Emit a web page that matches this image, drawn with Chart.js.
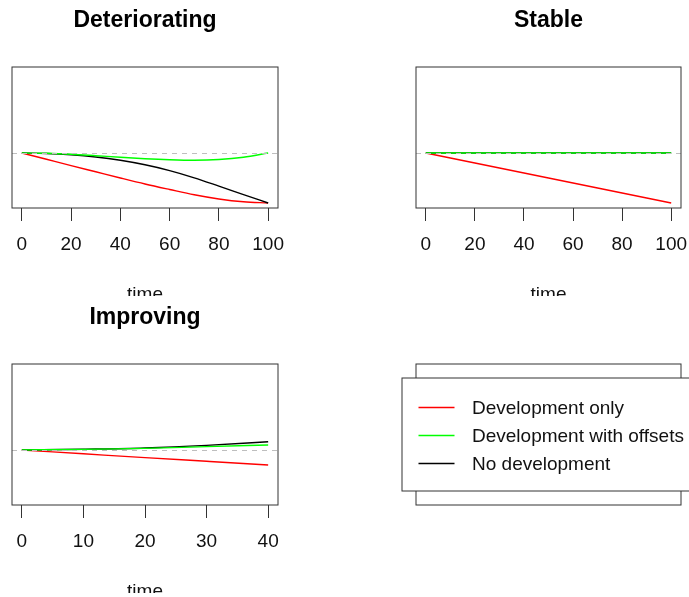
<!DOCTYPE html>
<html>
<head>
<meta charset="utf-8">
<script src="https://cdn.jsdelivr.net/npm/chart.js@4.4.1/dist/chart.umd.min.js"></script>
<style>
html,body{margin:0;padding:0;background:#fff;width:689px;height:597px;overflow:hidden;}
.panel{position:absolute;overflow:hidden;height:296px;background:#fff;}
.panel canvas{position:absolute;left:0;top:0;}
</style>
</head>
<body>
<div class="panel" style="left:0;top:0;width:344px"><canvas id="c1" width="344" height="320"></canvas></div>
<div class="panel" style="left:344px;top:0;width:345px"><canvas id="c2" width="345" height="320"></canvas></div>
<div class="panel" style="left:0;top:297px;width:344px"><canvas id="c3" width="344" height="320"></canvas></div>
<div class="panel" style="left:344px;top:297px;width:345px"><canvas id="c4" width="345" height="320"></canvas></div>
<script>
// ---------- data ----------
const seriesNames = ["Development only", "Development with offsets", "No development"];
const seriesColors = ["#ff0000", "#00ff00", "#000000"];
const panelTitles = ["Deteriorating", "Stable", "Improving"];
const xTitle = "time";
const baseline = 1;

const deterTime = [0, 10, 20, 30, 40, 50, 60, 70, 80, 90, 100];
const deterDevOnly = [1.000, 0.937, 0.874, 0.812, 0.750, 0.690, 0.635, 0.582, 0.540, 0.512, 0.500];
const deterDevOffsets = [1.000, 0.997, 0.988, 0.973, 0.957, 0.943, 0.933, 0.928, 0.935, 0.958, 1.000];
const deterNoDev = [1.000, 0.995, 0.982, 0.960, 0.927, 0.882, 0.824, 0.752, 0.669, 0.584, 0.500];

const stableTime = [0, 20, 40, 60, 80, 100];
const stableDevOnly = [1.0, 0.9, 0.8, 0.7, 0.6, 0.5];
const stableDevOffsets = [1, 1, 1, 1, 1, 1];
const stableNoDev = [1, 1, 1, 1, 1, 1];

const improvTime = [0, 10, 20, 30, 40];
const improvDevOnly = [1.000, 0.962, 0.924, 0.887, 0.850];
const improvDevOffsets = [1.000, 1.006, 1.016, 1.034, 1.050];
const improvNoDev = [1.000, 1.008, 1.020, 1.046, 1.083];

const ticks100 = [0, 20, 40, 60, 80, 100];
const ticks40 = [0, 10, 20, 30, 40];

// ---------- rendering ----------
Chart.defaults.font.family = "'Liberation Sans', Arial, sans-serif";
Chart.defaults.color = "#111";
const FONT = 19;
const drawOrder = [2, 0, 1];   // red below, green on top

const framePlugin = {
  id: 'frame',
  afterDatasetsDraw(chart, args, opts) {
    const { ctx, chartArea: a } = chart;
    ctx.save();
    if (opts.baseline !== undefined) {
      const y = Math.round(chart.scales.y.getPixelForValue(opts.baseline)) + 0.5;
      ctx.strokeStyle = '#bebebe';
      ctx.lineWidth = 1;
      ctx.setLineDash([5, 5]);
      ctx.beginPath();
      ctx.moveTo(a.left, y);
      ctx.lineTo(a.right, y);
      ctx.stroke();
      ctx.setLineDash([]);
    }
    ctx.strokeStyle = '#333';
    ctx.lineWidth = 1;
    ctx.strokeRect(a.left, a.top, a.right - a.left, a.bottom - a.top);
    if (opts.legend) {
      const cx = (a.left + a.right) / 2, cy = (a.top + a.bottom) / 2;
      const w = 294, h = 113;
      const bx = Math.round(cx - w / 2), by = Math.round(cy - h / 2);
      ctx.fillStyle = '#fff';
      ctx.fillRect(bx, by, w, h);
      ctx.strokeStyle = '#333';
      ctx.strokeRect(bx, by, w, h);
      ctx.font = FONT + "px 'Liberation Sans', Arial, sans-serif";
      ctx.textBaseline = 'middle';
      ctx.textAlign = 'left';
      chart.data.datasets.forEach((ds, i) => {
        const y = by + 29.5 + i * 28;
        ctx.strokeStyle = ds.borderColor;
        ctx.lineWidth = 1.3;
        ctx.beginPath();
        ctx.moveTo(bx + 16.5, y);
        ctx.lineTo(bx + 52.5, y);
        ctx.stroke();
        ctx.fillStyle = '#111';
        ctx.fillText(ds.label, bx + 70, y + 1);
      });
    }
    ctx.restore();
  }
};

function toPoints(xs, ys) { return xs.map((x, i) => ({ x: x, y: ys[i] })); }

function makePanel(id, title, time, series, xmin, xmax, ticks, padLeft, padRight) {
  const datasets = series.map((vals, i) => ({
    label: seriesNames[i],
    data: toPoints(time, vals),
    borderColor: seriesColors[i],
    borderWidth: 1.4,
    pointRadius: 0,
    fill: false,
    cubicInterpolationMode: 'monotone',
    order: drawOrder[i]
  }));
  new Chart(document.getElementById(id), {
    type: 'line',
    data: { datasets: datasets },
    plugins: [framePlugin],
    options: {
      responsive: false,
      animation: false,
      devicePixelRatio: 1,
      layout: { padding: { left: padLeft, right: padRight, top: 0, bottom: 0 } },
      plugins: {
        legend: { display: false },
        tooltip: { enabled: false },
        title: {
          display: true, text: title, fullSize: false, color: '#000',
          font: { size: 23, weight: 'bold' },
          padding: { top: 6.7, bottom: 32.7 }
        },
        frame: { baseline: baseline }
      },
      scales: {
        x: {
          type: 'linear', position: 'bottom', min: xmin, max: xmax,
          afterBuildTicks: (axis) => { axis.ticks = ticks.map(v => ({ value: v })); },
          afterFit: (axis) => { axis.height = 112; axis.paddingLeft = 0; axis.paddingRight = 0; },
          border: { display: false },
          grid: { drawOnChartArea: false, drawTicks: true, tickLength: 13, color: '#333', lineWidth: 1 },
          ticks: { font: { size: FONT }, color: '#111', padding: 12, maxRotation: 0, autoSkip: false },
          title: { display: true, text: xTitle, font: { size: FONT }, color: '#111', padding: { top: 0, bottom: 14 } }
        },
        y: { type: 'linear', display: false, min: 0.45, max: 1.86 }
      }
    }
  });
}

makePanel('c1', panelTitles[0], deterTime, [deterDevOnly, deterDevOffsets, deterNoDev], -4, 104, ticks100, 12, 66);
makePanel('c2', panelTitles[1], stableTime, [stableDevOnly, stableDevOffsets, stableNoDev], -4, 104, ticks100, 72, 8);
makePanel('c3', panelTitles[2], improvTime, [improvDevOnly, improvDevOffsets, improvNoDev], -1.6, 41.6, ticks40, 12, 66);

// legend panel
new Chart(document.getElementById('c4'), {
  type: 'line',
  data: {
    datasets: seriesNames.map((n, i) => ({ label: n, data: [], borderColor: seriesColors[i] }))
  },
  plugins: [framePlugin],
  options: {
    responsive: false,
    animation: false,
    devicePixelRatio: 1,
    layout: { padding: { left: 72, right: 8, top: 67, bottom: 112 } },
    plugins: {
      legend: { display: false },
      tooltip: { enabled: false },
      title: { display: false },
      frame: { legend: true }
    },
    scales: {
      x: { type: 'linear', display: false, min: 0, max: 1 },
      y: { type: 'linear', display: false, min: 0, max: 1 }
    }
  }
});
</script>
</body>
</html>
